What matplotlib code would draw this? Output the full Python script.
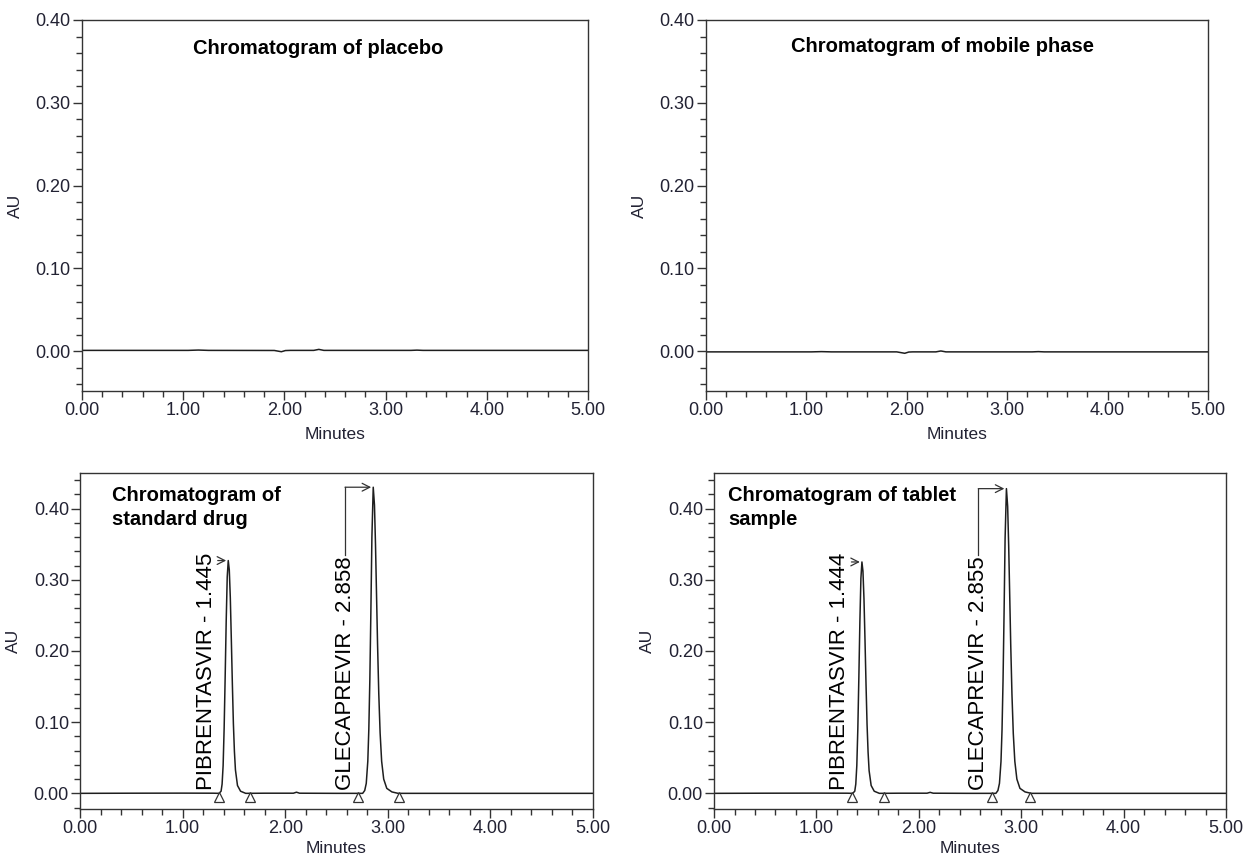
import matplotlib
matplotlib.use("Agg")
import matplotlib.pyplot as plt
from matplotlib.ticker import MultipleLocator, FormatStrFormatter

plt.rcParams['font.family'] = ['Liberation Sans', 'DejaVu Sans']

# ---------------- data ----------------
titles = ["Chromatogram of placebo", "Chromatogram of mobile phase",
          "Chromatogram of\nstandard drug", "Chromatogram of tablet\nsample"]

placebo_time = [0.00, 0.50, 1.05, 1.15, 1.25, 1.90, 1.97, 2.01, 2.06, 2.29, 2.34, 2.39,
                3.25, 3.31, 3.37, 4.00, 5.00]
placebo_au = [0.0010, 0.0010, 0.0010, 0.0014, 0.0010, 0.0009, -0.0006, 0.0008, 0.0010,
              0.0010, 0.0022, 0.0010, 0.0010, 0.0013, 0.0010, 0.0010, 0.0010]

mobile_time = [0.00, 0.50, 1.05, 1.15, 1.25, 1.90, 1.98, 2.02, 2.06, 2.29, 2.34, 2.39,
               3.25, 3.31, 3.37, 4.00, 5.00]
mobile_au = [-0.0008, -0.0008, -0.0008, -0.0005, -0.0008, -0.0008, -0.0025, -0.0010, -0.0008,
             -0.0008, 0.0003, -0.0008, -0.0008, -0.0005, -0.0008, -0.0008, -0.0008]

std_time = [0.00, 0.50, 1.00, 1.30,
            1.355, 1.375, 1.385, 1.395, 1.405, 1.415, 1.425, 1.435, 1.445, 1.455, 1.465,
            1.475, 1.485, 1.495, 1.505, 1.515, 1.535, 1.565, 1.615,
            1.80, 2.08, 2.11, 2.14, 2.50,
            2.755, 2.775, 2.790, 2.805, 2.815, 2.825, 2.835, 2.845, 2.858, 2.870, 2.880,
            2.890, 2.900, 2.912, 2.925, 2.940, 2.960, 2.990, 3.040, 3.100,
            3.50, 4.00, 5.00]
std_au = [0.0000, 0.0002, 0.0003, 0.0002,
          0.000, 0.003, 0.013, 0.039, 0.092, 0.164, 0.242, 0.304, 0.327, 0.314, 0.275,
          0.216, 0.154, 0.098, 0.059, 0.033, 0.011, 0.003, 0.000,
          0.0002, 0.0002, 0.0016, 0.0002, 0.0000,
          0.000, 0.004, 0.014, 0.045, 0.090, 0.160, 0.255, 0.360, 0.430, 0.405, 0.350,
          0.280, 0.210, 0.140, 0.085, 0.045, 0.020, 0.007, 0.002, 0.000,
          0.0000, 0.0000, 0.0000]

tab_time = [0.00, 0.50, 1.00, 1.30,
            1.354, 1.374, 1.384, 1.394, 1.404, 1.414, 1.424, 1.434, 1.444, 1.454, 1.464,
            1.474, 1.484, 1.494, 1.504, 1.514, 1.534, 1.564, 1.614,
            1.80, 2.08, 2.11, 2.14, 2.50,
            2.752, 2.772, 2.787, 2.802, 2.812, 2.822, 2.832, 2.842, 2.855, 2.867, 2.877,
            2.887, 2.897, 2.909, 2.922, 2.937, 2.957, 2.987, 3.037, 3.097,
            3.50, 4.00, 5.00]
tab_au = [0.0000, 0.0002, 0.0003, 0.0002,
          0.000, 0.003, 0.013, 0.039, 0.091, 0.163, 0.241, 0.302, 0.325, 0.312, 0.273,
          0.215, 0.153, 0.097, 0.058, 0.032, 0.011, 0.003, 0.000,
          0.0002, 0.0002, 0.0014, 0.0002, 0.0000,
          0.000, 0.004, 0.014, 0.045, 0.089, 0.159, 0.253, 0.358, 0.428, 0.403, 0.348,
          0.279, 0.209, 0.139, 0.084, 0.045, 0.020, 0.007, 0.002, 0.000,
          0.0000, 0.0000, 0.0000]

peak_names = ["PIBRENTASVIR", "GLECAPREVIR"]
std_rt = [1.445, 2.858]
std_height = [0.327, 0.430]
std_bounds = [(1.35, 1.66), (2.71, 3.11)]
tab_rt = [1.444, 2.855]
tab_height = [0.325, 0.428]
tab_bounds = [(1.35, 1.66), (2.71, 3.09)]

# ---------------- figure ----------------
fig = plt.figure(figsize=(12.44, 8.57), dpi=100)
positions = [
    [0.0659, 0.5438, 0.4068, 0.4329],
    [0.5675, 0.5438, 0.4035, 0.4329],
    [0.0643, 0.0560, 0.4124, 0.3921],
    [0.5740, 0.0560, 0.4116, 0.3921],
]
traces = [(placebo_time, placebo_au), (mobile_time, mobile_au),
          (std_time, std_au), (tab_time, tab_au)]
ylims = [(-0.048, 0.40), (-0.048, 0.40), (-0.022, 0.45), (-0.022, 0.45)]
title_xy = [(0.219, 0.950), (0.170, 0.955), (0.062, 0.960), (0.027, 0.960)]
xlabel_pads = [6, 6, 3, 3]

txt_color = '#222233'
line_color = '#1e1e1e'

axes = []
for i in range(4):
    ax = fig.add_axes(positions[i])
    t, a = traces[i]
    ax.plot(t, a, color=line_color, lw=1.1)
    ax.set_xlim(0, 5)
    ax.set_ylim(*ylims[i])
    ax.xaxis.set_major_locator(MultipleLocator(1.0))
    ax.xaxis.set_minor_locator(MultipleLocator(0.2))
    ax.yaxis.set_major_locator(MultipleLocator(0.1))
    ax.yaxis.set_minor_locator(MultipleLocator(0.02))
    ax.xaxis.set_major_formatter(FormatStrFormatter('%.2f'))
    ax.yaxis.set_major_formatter(FormatStrFormatter('%.2f'))
    ax.tick_params(which='major', direction='out', length=6.5, width=1.0,
                   labelsize=13, colors='#333333', labelcolor=txt_color, pad=1.5)
    ax.tick_params(which='minor', direction='out', length=4, width=1.0, colors='#333333')
    for s in ax.spines.values():
        s.set_color('#333333')
        s.set_linewidth(1.0)
    ax.set_xlabel('Minutes', fontsize=12.5, color=txt_color, labelpad=xlabel_pads[i])
    ax.set_ylabel('AU', fontsize=12.5, color=txt_color, labelpad=9)
    ax.text(title_xy[i][0], title_xy[i][1], titles[i], transform=ax.transAxes,
            fontsize=14.5, fontweight='bold', color='black', ha='left', va='top',
            linespacing=1.3)
    axes.append(ax)

fig.canvas.draw()
renderer = fig.canvas.get_renderer()

label_offsets = [0.215, 0.275]
peak_sets = [(axes[2], std_rt, std_height, std_bounds),
             (axes[3], tab_rt, tab_height, tab_bounds)]
for ax, rts, hts, bounds in peak_sets:
    for k in range(2):
        rt, h = rts[k], hts[k]
        lx = rt - label_offsets[k]
        txt = ax.text(lx, 0.004, f"{peak_names[k]} - {rt:.3f}", rotation=90,
                      ha='center', va='bottom', fontsize=16, color='black')
        fig.canvas.draw()
        bb = txt.get_window_extent(renderer).transformed(ax.transData.inverted())
        arrow_kw = dict(arrowstyle='->,head_length=0.55,head_width=0.28', lw=0.9,
                        color='#333333', shrinkA=0, shrinkB=1.5)
        if bb.y1 < h - 0.005:
            ax.plot([lx, lx], [bb.y1 + 0.003, h], color='#333333', lw=0.9)
            ax.annotate('', xy=(rt, h), xytext=(lx, h), arrowprops=arrow_kw)
        else:
            ax.annotate('', xy=(rt, h), xytext=(bb.x1 + 0.01, h), arrowprops=arrow_kw)
        ax.plot(list(bounds[k]), [-0.0055, -0.0055], linestyle='none', marker='^',
                markersize=6.5, markerfacecolor='white', markeredgecolor='#333333',
                markeredgewidth=0.9)

fig.savefig('out.png', dpi=100)
